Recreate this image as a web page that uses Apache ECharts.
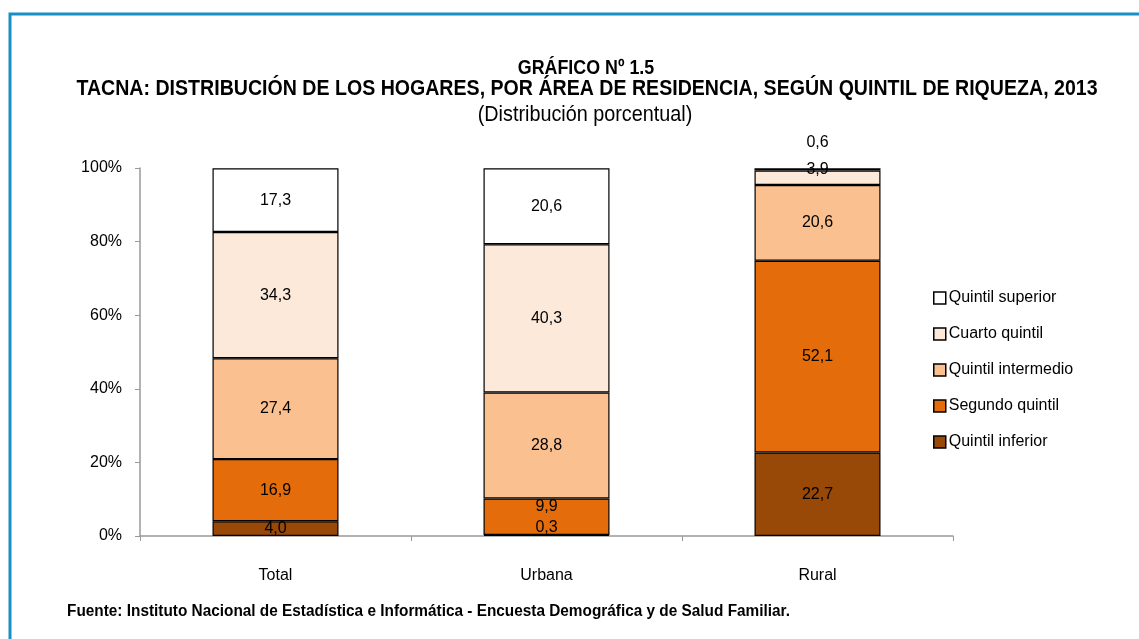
<!DOCTYPE html>
<html>
<head>
<meta charset="utf-8">
<script src="https://cdn.jsdelivr.net/npm/echarts@6/dist/echarts.min.js"></script>
<style>
  html, body { margin: 0; padding: 0; background: #fff; }
  #chart { width: 1139px; height: 639px; }
</style>
</head>
<body>
<div id="chart"></div>
<script>
const areas = ['Total', 'Urbana', 'Rural']
const inferior = [4.0, 0.3, 22.7]
const segundo = [16.9, 9.9, 52.1]
const intermedio = [27.4, 28.8, 20.6]
const cuarto = [34.3, 40.3, 3.9]
const superior = [17.3, 20.6, 0.6]

const FONT = "'Liberation Sans', Arial, sans-serif"

// series bottom -> top
const stack = [
  { name: 'Quintil inferior', data: inferior, color: '#984807' },
  { name: 'Segundo quintil', data: segundo, color: '#E46C0A' },
  { name: 'Quintil intermedio', data: intermedio, color: '#FAC090' },
  { name: 'Cuarto quintil', data: cuarto, color: '#FDE9D9' },
  { name: 'Quintil superior', data: superior, color: '#FFFFFF' }
]

// small segments: push the label up so it stays readable
const labelShift = { '0-1': -8, '1-1': -10, '3-2': -8, '4-2': -27 }

const fmt = v => v.toFixed(1).replace('.', ',')

// narrow-looking text (no Arial Narrow available, so squeeze horizontally)
function narrowText(text, x, y, font, sx, align) {
  return {
    type: 'text', x: x, y: y, scaleX: sx,
    style: { text: text, font: font, fill: '#000', textAlign: align || 'center', textVerticalAlign: 'middle' }
  }
}

const chart = echarts.init(document.getElementById('chart'))
chart.setOption({
  animation: false,
  textStyle: { fontFamily: FONT },
  graphic: [
    {
      type: 'polyline',
      shape: { points: [[10, 639], [10, 14], [1139, 14]] },
      style: { stroke: '#1a8fc4', lineWidth: 3, fill: null }
    },
    narrowText('GRÁFICO Nº 1.5', 586, 68, "bold 21px 'Liberation Sans'", 0.85),
    narrowText('TACNA: DISTRIBUCIÓN DE LOS HOGARES, POR ÁREA DE RESIDENCIA, SEGÚN QUINTIL DE RIQUEZA, 2013',
      587, 89, "bold 22px 'Liberation Sans'", 0.89),
    narrowText('(Distribución porcentual)', 585, 115, "22px 'Liberation Sans'", 0.9),
    narrowText('Fuente: Instituto Nacional de Estadística e Informática - Encuesta Demográfica y de Salud Familiar.',
      67, 612, "bold 16px 'Liberation Sans'", 0.96, 'left')
  ],
  legend: {
    orient: 'vertical',
    left: 928, top: 285,
    itemWidth: 12, itemHeight: 12, itemGap: 20,
    icon: 'rect',
    data: stack.map(s => s.name).reverse(),
    itemStyle: { borderColor: '#000', borderWidth: 1.5 },
    textStyle: { fontFamily: FONT, fontSize: 16, color: '#000', padding: [0, 0, 0, -2] }
  },
  grid: { left: 140, right: 186, top: 168, bottom: 103 },
  xAxis: {
    type: 'category',
    data: areas,
    axisLine: { lineStyle: { color: '#999', width: 1.5 } },
    axisTick: { show: true, alignWithLabel: false, length: 5, lineStyle: { color: '#999' } },
    axisLabel: { color: '#000', fontSize: 16, fontFamily: FONT, margin: 32 }
  },
  yAxis: {
    type: 'value',
    min: 0, max: 100, interval: 20,
    axisLine: { show: true, lineStyle: { color: '#999', width: 1.5 } },
    axisTick: { show: true, length: 5, lineStyle: { color: '#999' } },
    splitLine: { show: false },
    axisLabel: { color: '#000', fontSize: 16, fontFamily: FONT, margin: 18, formatter: '{value}%' }
  },
  series: stack.map((s, si) => ({
    name: s.name,
    type: 'bar',
    stack: 'total',
    barWidth: 126,
    itemStyle: { color: s.color, borderColor: '#000', borderWidth: 1.2 },
    label: {
      show: true, position: 'inside', color: '#000',
      fontSize: 16, fontFamily: FONT,
      formatter: p => fmt(p.value)
    },
    data: s.data.map((v, i) => {
      const off = labelShift[si + '-' + i]
      return off ? { value: v, label: { offset: [0, off] } } : v
    })
  }))
})
</script>
</body>
</html>
